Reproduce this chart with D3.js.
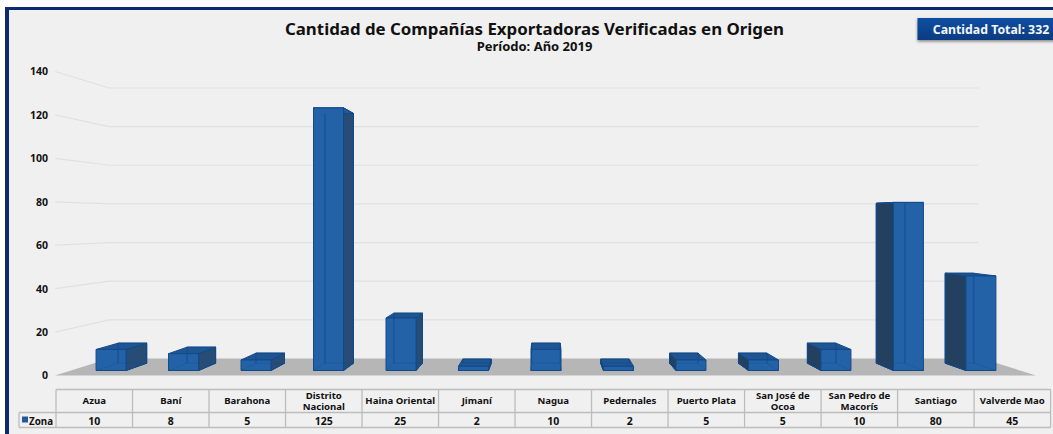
<!DOCTYPE html>
<html><head><meta charset="utf-8">
<script src="https://cdn.jsdelivr.net/npm/d3@7"></script>
<style>
html,body{margin:0;padding:0;background:#fff;overflow:hidden}
svg{display:block}
text{font-family:"Noto Sans",sans-serif;font-weight:bold;fill:#111}
</style></head><body>
<svg id="c" width="1053" height="434"></svg>
<script>
const categories=["Azua","Baní","Barahona","Distrito Nacional","Haina Oriental","Jimaní","Nagua","Pedernales","Puerto Plata","San José de Ocoa","San Pedro de Macorís","Santiago","Valverde Mao"];
const categoryLines=[["Azua"],["Baní"],["Barahona"],["Distrito","Nacional"],["Haina Oriental"],["Jimaní"],["Nagua"],["Pedernales"],["Puerto Plata"],["San José de","Ocoa"],["San Pedro de","Macorís"],["Santiago"],["Valverde Mao"]];
const values=[10,8,5,125,25,2,10,2,5,5,10,80,45];
const yTicks=[0,20,40,60,80,100,120,140];
const seriesName="Zona";
const titleText="Cantidad de Compañías Exportadoras Verificadas en Origen";
const subtitleText="Período: Año 2019";
const totalText="Cantidad Total: 332";

const W=1053,H=434;
const svg=d3.select("#c");
const defs=svg.append("defs");
const g=defs.append("linearGradient").attr("id","btn").attr("x1",0).attr("x2",0).attr("y1",0).attr("y2",1);
g.append("stop").attr("offset",0).attr("stop-color","#0d4fa3");
g.append("stop").attr("offset",1).attr("stop-color","#073a80");
const f=defs.append("filter").attr("id","sh").attr("x","-10%").attr("y","-20%").attr("width","120%").attr("height","160%");
f.append("feDropShadow").attr("dx",0).attr("dy",1.5).attr("stdDeviation",1.5).attr("flood-color","#000").attr("flood-opacity",.45);

// panel
svg.append("rect").attr("x",5).attr("y",7).attr("width",W).attr("height",H).attr("fill","#0b2a6f");
svg.append("rect").attr("x",9).attr("y",10).attr("width",W).attr("height",H).attr("fill","#f0f0f0");

// perspective
const vp={x:545.5,y:221};
const sBack=0.8896, sFront=0.9675, sRear=0.92;
const y=d3.scaleLinear().domain([0,140]).range([375.5,71.5]);
const x=d3.scaleBand().domain(categories).range([59,1033]).paddingInner(0.586).paddingOuter(0.293);
const project=(px,py,s)=>[vp.x+(px-vp.x)*s, vp.y+(py-vp.y)*s];
const line=d3.line();

// grid
const floorL=55,floorR=1036;
const gridG=svg.append("g");
gridG.selectAll("path").data(yTicks.slice(1)).join("path")
 .attr("d",v=>{const a=[floorL,y(v)];const b=project(floorL,y(v),sBack);const c=project(floorR-4,y(v),sBack);return line([a,b,c]);})
 .attr("fill","none").attr("stroke","#e0e0e0").attr("stroke-width",1.2);

// floor
svg.append("path").attr("fill","#b6b6b6")
 .attr("d",line([[floorL,y(0)],[floorR,y(0)],project(floorR,y(0),sBack),project(floorL,y(0),sBack)])+"Z");

// y axis
const ax=svg.append("g").attr("transform",`translate(${floorL-7},0)`).call(d3.axisLeft(y).tickValues(yTicks).tickSize(0).tickPadding(0));
ax.select(".domain").remove();
ax.selectAll("text").attr("font-size",10.5).attr("font-family",'"Noto Sans",sans-serif').attr("font-weight","bold").attr("fill","#111");

// bars
const order=d3.range(categories.length).sort((a,b)=>Math.abs(x(categories[b])+x.bandwidth()/2-vp.x)-Math.abs(x(categories[a])+x.bandwidth()/2-vp.x));
const edge="#124a8a";
const barG=svg.append("g").attr("stroke-linejoin","round");
order.forEach(i=>{
  const c=categories[i],x0=x(c),x1=x0+x.bandwidth(),yt=y(values[i]),yb=y(0);
  const F=(a,b)=>project(a,b,sFront),R=(a,b)=>project(a,b,sRear);
  const poly=(pts,fill,op)=>barG.append("path").attr("d",line(pts)+"Z").attr("fill",fill).attr("fill-opacity",op).attr("stroke",edge).attr("stroke-width",1);
  const ghost=(pts,op)=>barG.append("path").attr("d",line(pts)).attr("fill","none").attr("stroke",edge).attr("stroke-width",1).attr("stroke-opacity",op);
  const cx=(x0+x1)/2;
  poly([R(x0,yb),R(x1,yb),R(x1,yt),R(x0,yt)],"#2161a5",1);
  poly([F(x0,yb),F(x1,yb),R(x1,yb),R(x0,yb)],"#1d5798",1);
  if(cx<vp.x-20) poly([F(x1,yb),R(x1,yb),R(x1,yt),F(x1,yt)],"#274d76",1);
  else if(cx>vp.x+20) poly([F(x0,yb),R(x0,yb),R(x0,yt),F(x0,yt)],"#24405f",1);
  poly([F(x0,yt),F(x1,yt),R(x1,yt),R(x0,yt)],yt<vp.y?"#1f5a9c":"#1e5592",1);
  poly([F(x0,yb),F(x1,yb),F(x1,yt),F(x0,yt)],"#2362a6",1);
  // edges of the hidden faces showing through the translucent front
  ghost([R(x0,yt),R(x0,yb)],.85);
  ghost([R(x1,yt),R(x1,yb)],.85);
  ghost([R(x0,yb),R(x1,yb)],.3);
  ghost([F(x0,yb),R(x0,yb)],.3);
  ghost([F(x1,yb),R(x1,yb)],.3);
});

// titles
svg.append("text").attr("x",534.5).attr("y",34.5).attr("text-anchor","middle").attr("font-size",16.85).text(titleText);
svg.append("text").attr("x",534.5).attr("y",50.5).attr("text-anchor","middle").attr("font-size",13).text(subtitleText);

// total button
svg.append("rect").attr("x",917.5).attr("y",18).attr("width",140).attr("height",22).attr("fill","url(#btn)").attr("filter","url(#sh)");
svg.append("text").attr("x",991).attr("y",33.5).attr("text-anchor","middle").attr("font-size",12.3).style("fill","#f4f6fa").text(totalText);

// table
const colX=d3.scaleBand().domain(categories).range([56,1050.6]);
const rowTop=389.5,rowMid=412.5,rowBot=427.5;
const tb=svg.append("g");
const stroke="#bcbcbc";
const hl=(x1,x2,yy)=>tb.append("line").attr("x1",x1).attr("x2",x2).attr("y1",yy).attr("y2",yy).attr("stroke",stroke).attr("stroke-width",1.3);
const vl=(xx,y1,y2)=>tb.append("line").attr("x1",xx).attr("x2",xx).attr("y1",y1).attr("y2",y2).attr("stroke",stroke).attr("stroke-width",1.3);
hl(56,1050.6,rowTop);hl(19,1050.6,rowMid);hl(19,1050.6,rowBot);
vl(19,rowMid,rowBot);
categories.forEach((c,i)=>vl(colX(c),rowTop,rowBot));
vl(1050.6,rowTop,rowBot);
categories.forEach((c,i)=>{
  const cx=colX(c)+colX.bandwidth()/2,lines=categoryLines[i];
  const t=tb.append("text").attr("text-anchor","middle").attr("font-size",9.6);
  lines.forEach((l,j)=>t.append("tspan").attr("x",cx).attr("y",lines.length>1?399+j*11:404).text(l));
  tb.append("text").attr("x",cx).attr("y",424.5).attr("text-anchor","middle").attr("font-size",10.5).text(values[i]);
});
tb.append("rect").attr("x",22).attr("y",416.5).attr("width",6).attr("height",6).attr("fill","#1f5a9c");
tb.append("text").attr("x",29).attr("y",424.5).attr("font-size",9.8).text(seriesName);
</script>
</body></html>
